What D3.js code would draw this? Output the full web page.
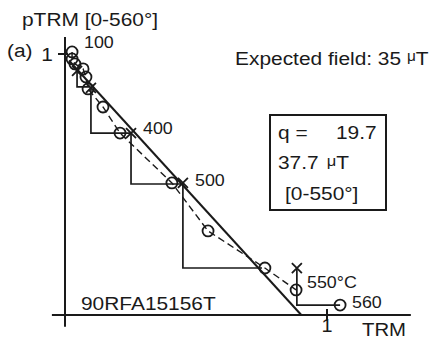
<!DOCTYPE html>
<html>
<head>
<meta charset="utf-8">
<script src="https://cdn.jsdelivr.net/npm/d3@7"></script>
<style>
  body { margin: 0; background: #fff; }
  svg { display: block; }
  text { font-family: "Liberation Sans", Arial, sans-serif; fill: #1a1a1a; }
</style>
</head>
<body>
<svg width="434" height="346"></svg>
<script>
// Arai plot steps (TRM gained, NRM remaining)
const stepTRM = [0.027, 0.027, 0.038, 0.069, 0.080, 0.088, 0.145, 0.210, 0.408, 0.546, 0.763, 0.882, 1.050]
const stepNRM = [1.008, 0.981, 0.962, 0.943, 0.912, 0.866, 0.797, 0.697, 0.506, 0.322, 0.180, 0.096, 0.038]
const dashedCount = 12

// pTRM checks
const checkTRM = [0.046, 0.099, 0.252, 0.450, 0.885]
const checkNRM = [0.935, 0.870, 0.697, 0.506, 0.180]
const checkFromTRM = [0.046, 0.099, 0.252, 0.450, 0.885]
const checkFromNRM = [0.931, 0.866, 0.697, 0.506, 0.180]
const checkToNRM = [0.874, 0.697, 0.502, 0.180, 0.038]
const checkToTRM = [0.095, 0.252, 0.450, 0.752, 1.050]

// best fit line
const fitTRM = [0.015, 0.902]
const fitNRM = [0.975, 0.0]

const xTicks = [1]
const yTicks = [1]

const svg = d3.select("svg")
const ink = "#1a1a1a"

const x = d3.scaleLinear().domain([0, 1]).range([65, 327])
const y = d3.scaleLinear().domain([0, 1]).range([315, 54])

// axes
svg.append("line")
	.attr("x1", x(-0.05)).attr("x2", x(1.32))
	.attr("y1", y(0)).attr("y2", y(0))
	.attr("stroke", ink).attr("stroke-width", 2)
svg.append("line")
	.attr("x1", x(0)).attr("x2", x(0))
	.attr("y1", y(1.065)).attr("y2", y(-0.045))
	.attr("stroke", ink).attr("stroke-width", 2)

svg.selectAll(".xtick").data(xTicks).enter().append("line")
	.attr("x1", d => x(d)).attr("x2", d => x(d))
	.attr("y1", y(0) - 6).attr("y2", y(0) + 6)
	.attr("stroke", ink).attr("stroke-width", 2)
svg.selectAll(".ytick").data(yTicks).enter().append("line")
	.attr("x1", x(0) - 7).attr("x2", x(0) + 3)
	.attr("y1", d => y(d)).attr("y2", d => y(d))
	.attr("stroke", ink).attr("stroke-width", 2)

function label(px, py, str, size, anchor, sx) {
	const t = svg.append("text")
		.attr("transform", `translate(${px},${py}) scale(${sx || 1.1},1)`)
		.attr("font-size", size)
		.attr("text-anchor", anchor || "start")
	t.text(str)
	return t
}

// tick labels
xTicks.forEach(d => label(x(d), 332, String(d), 18, "middle"))
yTicks.forEach(d => label(x(0) - 12, y(d) + 7, String(d), 19, "end"))

// fit line
svg.append("line")
	.attr("x1", x(fitTRM[0])).attr("y1", y(fitNRM[0]))
	.attr("x2", x(fitTRM[1])).attr("y2", y(fitNRM[1]))
	.attr("stroke", ink).attr("stroke-width", 2)

// check paths
const checkPath = checkTRM.map((_, i) => [
	[checkFromTRM[i], checkFromNRM[i]],
	[checkFromTRM[i], checkToNRM[i]],
	[checkToTRM[i], checkToNRM[i]]
])
svg.selectAll(".check").data(checkPath).enter().append("path")
	.attr("d", d3.line().x(d => x(d[0])).y(d => y(d[1])))
	.attr("fill", "none").attr("stroke", ink).attr("stroke-width", 1.7)

// dashed data line
const pts = stepTRM.map((v, i) => [v, stepNRM[i]])
svg.append("path")
	.datum(pts.slice(0, dashedCount))
	.attr("d", d3.line().x(d => x(d[0])).y(d => y(d[1])))
	.attr("fill", "none").attr("stroke", ink).attr("stroke-width", 1.4)
	.attr("stroke-dasharray", "7 4")

// step circles
svg.selectAll(".step").data(pts).enter().append("circle")
	.attr("cx", d => x(d[0])).attr("cy", d => y(d[1]))
	.attr("r", 5.5)
	.attr("fill", "none").attr("stroke", ink).attr("stroke-width", 1.8)

// check crosses
const s = 5
svg.selectAll(".cross").data(checkTRM.map((v, i) => [v, checkNRM[i]])).enter().append("path")
	.attr("d", d => {
		const cx = x(d[0]), cy = y(d[1])
		return `M${cx - s},${cy - s}L${cx + s},${cy + s}M${cx - s},${cy + s}L${cx + s},${cy - s}`
	})
	.attr("stroke", ink).attr("stroke-width", 1.8)

// text annotations
label(22, 26, "pTRM [0-560°]", 19)
label(7, 57, "(a)", 19)
label(84, 48, "100", 17, "start", 1.05)
label(143, 134, "400", 17, "start", 1.05)
label(195, 186, "500", 17, "start", 1.05)
label(307, 288, "550°C", 17, "start", 1.05)
label(352, 308, "560", 17, "start", 1.05)
label(362, 336, "TRM", 18.5)
label(81, 310, "90RFA15156T", 19)

const ef = label(235, 65, "Expected field: 35 ", 19)
ef.append("tspan").attr("font-size", 14).attr("dy", -4).text("μ")
ef.append("tspan").attr("dy", 4).text("T")

// result box
svg.append("rect")
	.attr("x", 270).attr("y", 115).attr("width", 116).attr("height", 95)
	.attr("fill", "none").attr("stroke", ink).attr("stroke-width", 2)
label(278, 139, "q  =", 19)
label(336, 139, "19.7", 19)
const bt = label(278, 169, "37.7 ", 19)
bt.append("tspan").attr("font-size", 15).attr("dx", 2).attr("dy", -3).text("μ")
bt.append("tspan").attr("dy", 3).text("T")
label(285, 200, "[0-550°]", 19)
</script>
</body>
</html>
